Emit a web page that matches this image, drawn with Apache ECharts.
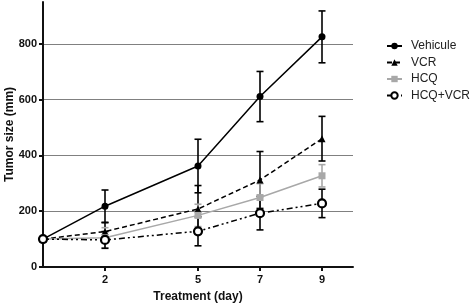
<!DOCTYPE html>
<html>
<head>
<meta charset="utf-8">
<script src="https://cdn.jsdelivr.net/npm/echarts@6/dist/echarts.min.js"></script>
<style>
html,body{margin:0;padding:0;background:#fff;}
#chart{width:472px;height:305px;}
</style>
</head>
<body>
<div id="chart"></div>
<script>
const days = [0, 2, 5, 7, 9];
const xTickLabels = [2, 5, 7, 9];
const yTickLabels = [0, 200, 400, 600, 800];
const seriesNames = ['Vehicule', 'VCR', 'HCQ', 'HCQ+VCR'];
const vehicule = [100, 218, 362, 611, 825];
const vehiculeErr = [0, 58, 96, 90, 93];
const vcr = [100, 127, 208, 312, 460];
const vcrErr = [0, 32, 84, 102, 80];
const hcq = [100, 105, 185, 249, 327];
const hcqErr = [0, 36, 40, 50, 40];
const hcqVcr = [100, 97, 128, 193, 228];
const hcqVcrErr = [0, 30, 52, 60, 51];

const GRAY = '#a8a8a8';
const BLACK = '#000';

function pts(vals){ return days.map((d,i)=>[d, vals[i]]); }
function errData(vals, errs){
  const out = [];
  days.forEach((d,i)=>{ if(errs[i]>0) out.push([d, vals[i]-errs[i], vals[i]+errs[i]]); });
  return out;
}
function errSeries(vals, errs, color){
  return {
    type:'custom', silent:true, z:1,
    data: errData(vals, errs),
    renderItem: function(params, api){
      const x = api.value(0), lo = api.value(1), hi = api.value(2);
      const pHi = api.coord([x, hi]), pLo = api.coord([x, lo]);
      const w = 3.5;
      const st = {stroke: color, lineWidth: 1.6};
      return {type:'group', children:[
        {type:'line', shape:{x1:pHi[0], y1:pHi[1], x2:pLo[0], y2:pLo[1]}, style:st},
        {type:'line', shape:{x1:pHi[0]-w, y1:pHi[1], x2:pHi[0]+w, y2:pHi[1]}, style:st},
        {type:'line', shape:{x1:pLo[0]-w, y1:pLo[1], x2:pLo[0]+w, y2:pLo[1]}, style:st}
      ]};
    }
  };
}

const chart = echarts.init(document.getElementById('chart'), null, {renderer:'canvas'});
const FONT = 'Liberation Sans, Arial, sans-serif';
chart.setOption({
  animation:false,
  backgroundColor:'#fff',
  grid:{left:43, right:119, top:2, bottom:38, containLabel:false, outerBoundsMode:'none'},
  legend:{
    orient:'vertical', left:386, top:40, padding:0,
    itemWidth:15, itemHeight:8, itemGap:4.5,
    data: seriesNames,
    textStyle:{fontFamily:FONT, fontSize:12, color:'#222', padding:[0,0,0,4]}
  },
  xAxis:{
    type:'value', min:0, max:10,
    name:'Treatment (day)', nameLocation:'middle', nameGap:24, nameMoveOverlap:false,
    nameTextStyle:{fontFamily:FONT, fontSize:12, fontWeight:'bold', color:'#111'},
    axisLine:{show:true, onZero:false, lineStyle:{color:'#111', width:2}},
    axisTick:{show:true, length:4, customValues:xTickLabels, lineStyle:{color:'#111', width:2}},
    axisLabel:{customValues:xTickLabels, margin:7, fontFamily:FONT, fontSize:11, fontWeight:'bold', color:'#111'},
    splitLine:{show:false}
  },
  yAxis:{
    type:'value', min:0, max:950,
    name:'Tumor size (mm)', nameLocation:'middle', nameGap:27, nameMoveOverlap:false,
    nameTextStyle:{fontFamily:FONT, fontSize:12, fontWeight:'bold', color:'#111'},
    axisLine:{show:true, onZero:false, lineStyle:{color:'#111', width:2}},
    axisTick:{show:true, length:4, customValues:yTickLabels, lineStyle:{color:'#111', width:2}},
    axisLabel:{customValues:yTickLabels, margin:6, fontFamily:FONT, fontSize:11, fontWeight:'bold', color:'#111'},
    splitLine:{show:true, lineStyle:{color:'#808080', width:1.2}}
  },
  series:[
    errSeries(vehicule, vehiculeErr, BLACK),
    errSeries(vcr, vcrErr, BLACK),
    errSeries(hcq, hcqErr, GRAY),
    errSeries(hcqVcr, hcqVcrErr, BLACK),
    {name:'Vehicule', type:'line', data:pts(vehicule), z:3,
     symbol:'circle', symbolSize:7, showAllSymbol:true,
     itemStyle:{color:BLACK}, lineStyle:{color:BLACK, width:1.5}},
    {name:'VCR', type:'line', data:pts(vcr), z:3,
     symbol:'triangle', symbolSize:7,
     itemStyle:{color:BLACK}, lineStyle:{color:BLACK, width:1.5, type:[5,3]}},
    {name:'HCQ', type:'line', data:pts(hcq), z:3,
     symbol:'rect', symbolSize:7,
     itemStyle:{color:GRAY}, lineStyle:{color:GRAY, width:1.5}},
    {name:'HCQ+VCR', type:'line', data:pts(hcqVcr), z:4,
     symbol:'circle', symbolSize:8,
     itemStyle:{color:'#fff', borderColor:BLACK, borderWidth:2.2},
     lineStyle:{color:BLACK, width:1.5, type:[6,3,2,3,2,3]}}
  ]
});
</script>
</body>
</html>
